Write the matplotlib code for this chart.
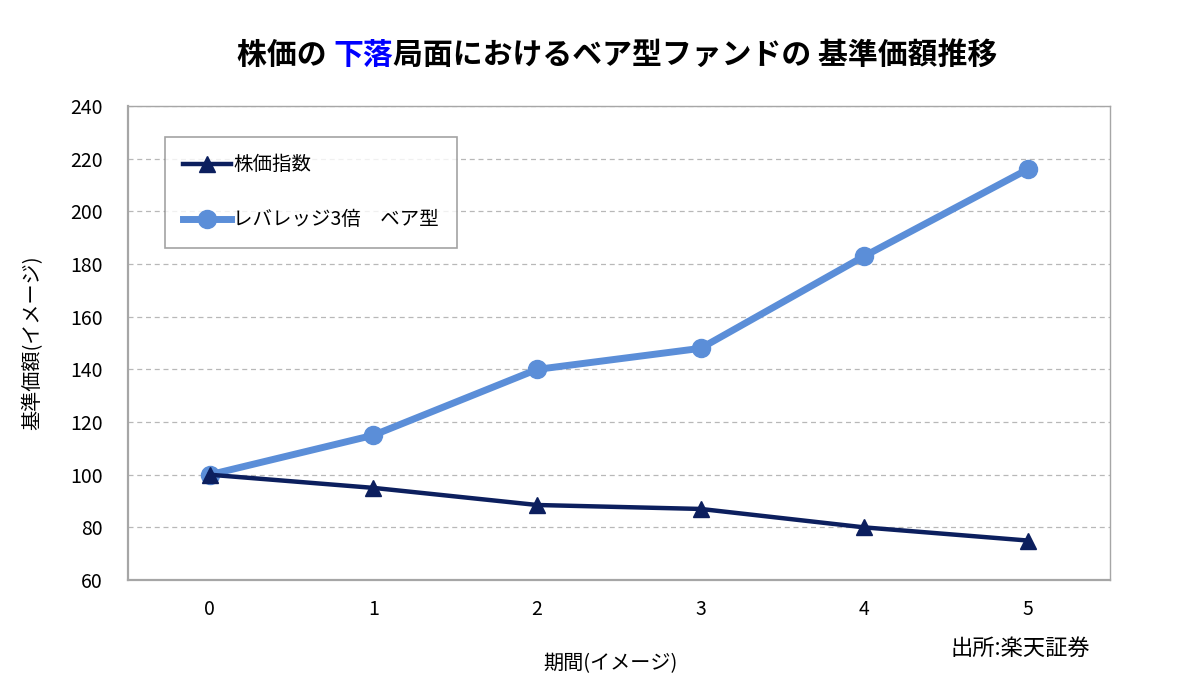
import matplotlib
matplotlib.use('Agg')
import matplotlib.pyplot as plt

plt.rcParams['font.family'] = ['Noto Sans CJK JP', 'DejaVu Sans']

# data
periods = [0, 1, 2, 3, 4, 5]
stock_index = [100, 95, 88.5, 87, 80, 75]
bear_3x = [100, 115, 140, 148, 183, 216]
y_ticks = [60, 80, 100, 120, 140, 160, 180, 200, 220, 240]

series_names = ['株価指数', 'レバレッジ3倍\u3000ベア型']
title_parts = ['株価の ', '下落', '局面におけるベア型ファンドの 基準価額推移']
title_colors = ['black', '#0000FF', 'black']

navy = '#0C1F5E'
light_blue = '#5B8ED8'

fig = plt.figure(figsize=(12, 6.98), dpi=100)
ax = fig.add_axes([0.1067, 0.169, 0.818, 0.679])

ax.plot(periods, stock_index, color=navy, linewidth=3.2, marker='^',
        markersize=12, label=series_names[0], zorder=4)
ax.plot(periods, bear_3x, color=light_blue, linewidth=5, marker='o',
        markersize=13, label=series_names[1], zorder=3)

ax.set_xlim(-0.5, 5.5)
ax.set_ylim(60, 240)
ax.set_xticks(periods)
ax.set_yticks(y_ticks)
ax.tick_params(length=0, labelsize=14, pad=14)
ax.tick_params(axis='y', pad=18)

ax.grid(axis='y', color='#B8B8B8', linestyle=(0, (4, 3)), linewidth=0.9)
ax.set_axisbelow(True)
for side, sp in ax.spines.items():
    sp.set_color('#A6A6A6')
    sp.set_linewidth(1.0 if side in ('top', 'right') else 1.6)

ax.set_ylabel('基準価額(イメージ)', fontsize=14.5)
ax.yaxis.set_label_coords(-0.086, 0.5)
ax.set_xlabel('期間(イメージ)', fontsize=14.5)
ax.xaxis.set_label_coords(0.491, -0.155)

leg = ax.legend(loc='upper left', bbox_to_anchor=(0.038, 0.935),
                fontsize=14, frameon=True, fancybox=False, borderpad=0.9,
                labelspacing=1.75, handlelength=2.5, handletextpad=0.1,
                borderaxespad=0)
leg.get_frame().set_edgecolor('#8C8C8C')
leg.get_frame().set_linewidth(1.2)

fig.text(0.85, 1 - 648 / 698, '出所:楽天証券', fontsize=16, ha='center',
         va='center')

# title built from pieces so one word can be blue
title_texts = []
for part, col in zip(title_parts, title_colors):
    title_texts.append(fig.text(0, 0, part, fontsize=21.5, fontweight='bold',
                                color=col, ha='left', va='baseline'))
fig.canvas.draw()
renderer = fig.canvas.get_renderer()
x0 = 0.1975
y0 = 1 - 64 / 698
for tx in title_texts:
    tx.set_position((x0, y0))
    bb = tx.get_window_extent(renderer)
    x0 += bb.width / fig.bbox.width

fig.savefig('out.png', dpi=100)
